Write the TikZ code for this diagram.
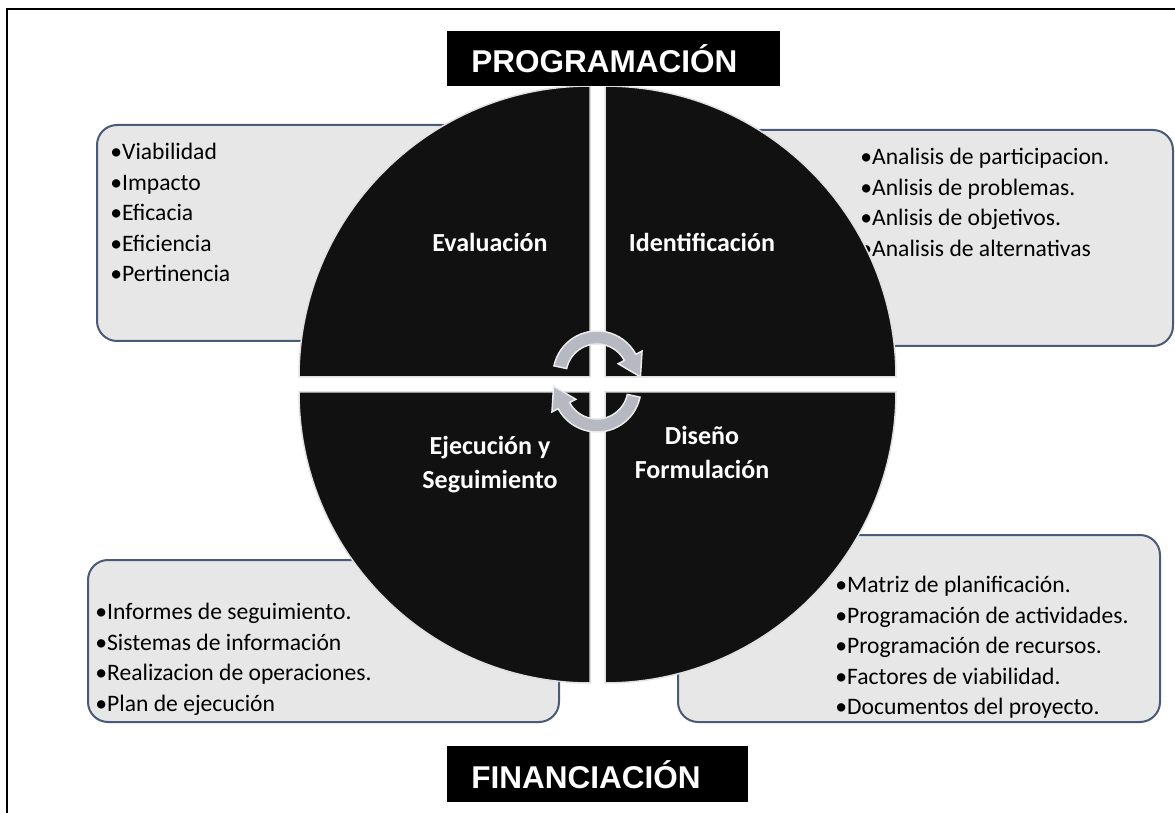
\documentclass[tikz,border=0pt]{standalone}
\usepackage{fontspec}
\setmainfont{Carlito}
\newfontfamily\headfont{Liberation Sans}
\usetikzlibrary{positioning,calc,fit}

\definecolor{boxfill}{HTML}{E7E7E7}
\definecolor{boxline}{HTML}{4A5B78}
\definecolor{quadfill}{HTML}{111111}
\definecolor{arrowfill}{HTML}{B6B9C1}

\begin{document}
\begin{tikzpicture}[x=0.5pt,y=-0.5pt,
% list boxes
    listbox/.style={rectangle,rounded corners=10pt,draw=boxline,line width=1pt,
		fill=boxfill,inner sep=0pt},
    listtext/.style={anchor=north west,inner sep=0pt,align=left,
		font={\fontsize{11.8pt}{15.25pt}\selectfont}},
% circle parts
    quad/.style={fill=quadfill,draw=black!12,line width=0.75pt},
    quadlabel/.style={text=white,align=center,inner sep=0pt,
		font={\bfseries\fontsize{13pt}{17pt}\selectfont}},
    cyclearrow/.style={fill=arrowfill,draw=black!8,line width=0.75pt},
% headings
    titlebox/.style={rectangle,fill=black,text=white,anchor=north west,align=left,
		inner xsep=12pt,inner ysep=0pt,minimum height=27.5pt,
		font={\headfont\bfseries\fontsize{15.75pt}{18pt}\selectfont}}
    ]

  \useasboundingbox (0,0) rectangle (1175,813);

  % frame
  \draw[line width=1.25pt] (1175,9) -- (7,9) -- (7,813);

  % boxes behind the circle
  \node (evalbox) [listbox, fit={(97,125) (540,341)}] {};
  \node (identbox) [listbox, fit={(650,130) (1173,346)}] {};
  \node (ejecbox) [listbox, fit={(88,560) (559,722)}] {};
  \node (disbox) [listbox, fit={(678,535) (1160,722)}] {};

  \node (evaltext) [listtext] at (110,143) {•Viabilidad\\•Impacto\\•Eficacia\\•Eficiencia\\•Pertinencia};
  \node (identtext) [listtext] at (860,148) {•Analisis de participacion.\\•Anlisis de problemas.\\•Anlisis de objetivos.\\•Analisis de alternativas};
  \node (ejectext) [listtext] at (95,603) {•Informes de seguimiento.\\•Sistemas de información\\•Realizacion de operaciones.\\•Plan de ejecución};
  \node (distext) [listtext] at (835,576) {•Matriz de planificación.\\•Programación de actividades.\\•Programación de recursos.\\•Factores de viabilidad.\\•Documentos del proyecto.};

  % the four quarters
  \draw[quad] (590,377) -- (299,377) arc[start angle=180,end angle=270,radius=291] -- cycle;
  \draw[quad] (605,377) -- (605,86) arc[start angle=270,end angle=360,radius=291] -- cycle;
  \draw[quad] (605,392) -- (896,392) arc[start angle=0,end angle=90,radius=291] -- cycle;
  \draw[quad] (590,392) -- (590,683) arc[start angle=90,end angle=180,radius=291] -- cycle;

  \node (evallabel) [quadlabel] at (490,242) {Evaluación};
  \node (identlabel) [quadlabel] at (702,242) {Identificación};
  \node (ejeclabel) [quadlabel] at (490,465) {Ejecución y\\Seguimiento};
  \node (dislabel) [quadlabel] at (702,452) {Diseño\\Formulación};

  % round arrows in the middle
  \coordinate (topc) at (597,375);
  \coordinate (botc) at (597,388);
  \filldraw[cyclearrow] ($(topc)+(-168:44)$) arc[start angle=-168,end angle=-28,radius=44]
    -- ($(topc)+(-28:51)$) -- ($(topc)+(-28:37.5)+(62:22)$) -- ($(topc)+(-28:24)$)
    -- ($(topc)+(-28:31)$) arc[start angle=-28,end angle=-168,radius=31] -- cycle;
  \filldraw[cyclearrow] ($(botc)+(12:44)$) arc[start angle=12,end angle=152,radius=44]
    -- ($(botc)+(152:51)$) -- ($(botc)+(152:37.5)+(242:22)$) -- ($(botc)+(152:24)$)
    -- ($(botc)+(152:31)$) arc[start angle=152,end angle=12,radius=31] -- cycle;

  % headings
  \node (prog) [titlebox, text width=142.5pt] at (447,31) {PROGRAMACIÓN};
  \node (fin) [titlebox, text width=126.5pt, minimum height=28pt] at (447,746) {FINANCIACIÓN};

\end{tikzpicture}
\end{document}
